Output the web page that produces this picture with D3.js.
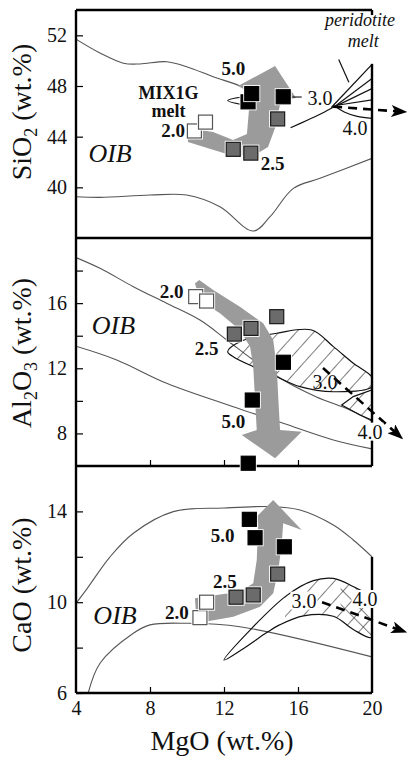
<!DOCTYPE html>
<html><head><meta charset="utf-8">
<script src="https://cdn.jsdelivr.net/npm/d3@7"></script>
<style>
html,body{margin:0;padding:0;background:#fff;}
svg{display:block;}
text{font-family:'Liberation Serif','Times New Roman',serif;}
</style></head><body>
<svg id="chart" width="408" height="759"></svg>
<script>
// ---------- axes ----------
const mgoDomain = [4, 20];
const mgoTicks = [4, 8, 12, 16, 20];
const sio2Ticks = [40, 44, 48, 52];
const al2o3Ticks = [8, 10, 12, 14, 16, 18];
const al2o3Labels = [8, 12, 16];
const caoTicks = [6, 8, 10, 12, 14];
const caoLabels = [6, 10, 14];

// ---------- experimental melts (pressure in GPa, MgO, oxide wt.%) ----------
const sio2Melts = [
  ["2.0", 10.4, 44.45], ["2.0", 11.0, 45.15],
  ["2.5", 12.5, 43.0], ["2.5", 13.45, 42.7], ["2.5", 14.9, 45.4],
  ["5.0", 13.3, 46.75], ["5.0", 13.5, 47.4], ["5.0", 15.2, 47.15]
];
const al2o3Melts = [
  ["2.0", 10.47, 16.40], ["2.0", 11.06, 16.13],
  ["2.5", 12.56, 14.10], ["2.5", 13.46, 14.45], ["2.5", 14.85, 15.17],
  ["5.0", 15.21, 12.37], ["5.0", 13.53, 10.05], ["5.0", 13.31, 6.17]
];
const caoMelts = [
  ["2.0", 10.70, 9.32], ["2.0", 11.06, 10.0],
  ["2.5", 12.65, 10.22], ["2.5", 13.58, 10.32], ["2.5", 14.9, 11.24],
  ["5.0", 13.37, 13.65], ["5.0", 13.68, 12.84], ["5.0", 15.26, 12.44]
];

// ---------- OIB envelopes ----------
const sio2OibUpper = [[4.0,51.7],[5.3,50.6],[6.56,49.8],[7.46,49.74],[8.9,49.92],[9.98,49.52],[11.42,48.73],[12.86,48.0],[13.3,47.6]];
const sio2OibLower = [[4.0,39.26],[5.3,39.21],[8.0,39.39],[9.98,39.39],[11.78,38.47],[13.58,36.55],[14.49,37.68],[15.75,39.92],[17.19,40.71],[20.0,42.29]];
const al2o3OibUpper = [[4.0,18.8],[5.3,18.14],[7.1,17.01],[8.9,15.99],[10.7,14.96],[12.15,13.74],[13.58,12.51],[15.2,11.28],[17.0,10.24],[18.81,9.44],[20.0,8.75]];
const al2o3OibLower = [[4.0,13.35],[6.2,12.51],[8.9,11.08],[12.5,9.64],[15.2,8.62],[17.91,7.6],[20.0,7.05]];
const caoOibUpper = [[4.0,9.95],[4.6,10.6],[5.84,12.0],[7.1,13.04],[9.26,13.99],[12.0,14.15],[14.66,14.21],[16.11,14.06],[17.91,13.40],[18.99,12.74],[20.0,12.0]];
const caoOibLower = [[4.66,6.0],[5.3,7.31],[7.1,8.63],[8.0,9.0],[10.0,9.07],[12.86,8.92],[20.0,7.59]];

// ---------- peridotite melt fields ----------
const sio2PeriLower = [[15.6,44.7],[16.5,45.3],[17.3,45.85],[18.0,46.4]];
const sio2PeriFan = [
  [[17.8,46.3],[20,49.7]], [[18.0,46.4],[20,48.6]],
  [[18.1,46.45],[20,47.8]], [[18.2,46.5],[20,46.9]]
];
const sio2PeriLoop = [[18.0,46.4],[18.5,45.95],[19.2,45.6],[20,45.45]];
const sio2PeriLeader = [[18.2,50.1],[18.75,48.3]];
const sio2SmallLoop = [[13.3,47.2],[12.2,46.85],[13.3,46.45]];
const sio2Leader30 = [[15.7,47.13],[16.2,47.13]];
const sio2Trend = [[17.9,46.37],[21.8,45.95]];

const al2o3PeriBig = [[12.2,13.02],[12.86,13.63],[14.85,14.15],[16.74,14.35],[17.91,13.33],[18.99,12.31],[20,11.45],[20,10.87],[17.91,10.56],[16.11,10.87],[14.85,11.48],[13.58,12.1],[12.5,12.71]];
const al2o3PeriSmall = [[18.36,9.75],[18.99,10.26],[20,10.67],[20,8.82],[19.35,9.13]];
const al2o3Trend = [[17.35,12.02],[21.6,7.72]];

const caoPeriLeaf = [[12.0,7.45],[13.5,8.85],[15.4,10.3],[16.83,10.95],[17.91,11.05],[18.81,10.76],[20,10.1],[20,8.45],[18.99,8.8],[17.91,9.38],[16.3,9.4],[15.0,9.0],[14.31,8.66],[13.04,7.95]];
const caoTrend = [[17.3,10.0],[21.8,8.69]];

// ---------- trend arrows ----------
const sio2Arrow = [[10.05,44.68],[11.41,44.37],[12.49,43.74],[13.24,44.21],[13.35,46.1],[13.19,47.68],[12.76,48.0],[14.76,49.58],[15.89,47.05],[15.08,46.9],[14.76,44.68],[14.38,43.18],[13.57,42.47],[12.32,42.55],[10.05,43.58]];
const al2o3Arrow = [[10.66,17.42],[11.42,16.81],[12.86,15.78],[14.12,14.76],[14.66,13.74],[14.85,12.10],[14.94,10.05],[15.03,8.21],[16.2,8.11],[14.76,6.47],[12.96,7.9],[13.77,8.21],[13.68,10.05],[13.58,12.10],[13.41,13.33],[12.86,14.35],[11.78,15.38],[10.70,16.18],[10.43,17.21]];
const caoArrow = [[10.43,10.17],[11.6,10.32],[12.86,10.46],[13.58,10.83],[13.77,11.86],[13.85,13.48],[13.23,13.33],[14.66,14.5],[16.2,13.18],[15.2,13.48],[15.12,12.59],[14.94,11.42],[14.66,10.39],[13.95,9.80],[12.5,9.36],[10.52,9.07]];

// ---------- drawing ----------
const svg = d3.select("#chart");
const x = d3.scaleLinear().domain(mgoDomain).range([76, 372]);
const fill = {"2.0": "#ffffff", "2.5": "#6b6b6b", "5.0": "#000000"};
const edge = {"2.0": "#555", "2.5": "#1a1a1a", "5.0": "#000"};

const defs = svg.append("defs");
defs.append("pattern").attr("id", "hatch").attr("patternUnits", "userSpaceOnUse")
  .attr("width", 13).attr("height", 13).attr("patternTransform", "rotate(42)")
  .append("line").attr("x1", 0).attr("y1", 0).attr("x2", 0).attr("y2", 13)
  .attr("stroke", "#111").attr("stroke-width", 1.1);
defs.append("pattern").attr("id", "hatchB").attr("patternUnits", "userSpaceOnUse")
  .attr("width", 11).attr("height", 11).attr("patternTransform", "rotate(-45)")
  .append("line").attr("x1", 0).attr("y1", 0).attr("x2", 0).attr("y2", 11)
  .attr("stroke", "#111").attr("stroke-width", 1.1);
defs.append("marker").attr("id", "head").attr("markerUnits", "userSpaceOnUse")
  .attr("viewBox", "0 0 16 12").attr("markerWidth", 16).attr("markerHeight", 12)
  .attr("refX", 14).attr("refY", 6).attr("orient", "auto")
  .append("path").attr("d", "M0,0 L16,6 L0,12 L4,6 Z").attr("fill", "#000");

const panels = [
  {id: "p1", y: d3.scaleLinear().domain([36, 54]).range([238, 10]), ticks: sio2Ticks, labels: sio2Ticks},
  {id: "p2", y: d3.scaleLinear().domain([6, 20]).range([466, 238]), ticks: al2o3Ticks, labels: al2o3Labels},
  {id: "p3", y: d3.scaleLinear().domain([6, 16]).range([693, 466]), ticks: caoTicks, labels: caoLabels}
];
panels.forEach(p => {
  const [y0, y1] = p.y.range();
  defs.append("clipPath").attr("id", "clip-" + p.id).append("rect")
    .attr("x", x.range()[0]).attr("y", y1).attr("width", x.range()[1] - x.range()[0]).attr("height", y0 - y1);
});

function lineFor(p, curve) {
  return d3.line().x(d => x(d[0])).y(d => p.y(d[1])).curve(curve || d3.curveLinear);
}
function layer(p) { return svg.append("g").attr("clip-path", `url(#clip-${p.id})`); }

function drawArrow(p, pts) {
  layer(p).append("path").attr("d", lineFor(p)(pts) + "Z").attr("fill", "#9b9b9b");
}
function drawOib(p, pts) {
  layer(p).append("path").attr("d", lineFor(p, d3.curveCatmullRom)(pts))
    .attr("fill", "none").attr("stroke", "#555").attr("stroke-width", 1.1);
}
function drawLine(g, p, pts, w, curve) {
  return g.append("path").attr("d", lineFor(p, curve)(pts))
    .attr("fill", "none").attr("stroke", "#111").attr("stroke-width", w || 1.1);
}
function drawTrend(p, pts) {
  svg.append("path").attr("d", lineFor(p)(pts)).attr("fill", "none")
    .attr("stroke", "#000").attr("stroke-width", 2.6).attr("stroke-dasharray", "9,6")
    .attr("marker-end", "url(#head)");
}
function drawMelts(p, rows) {
  const s = 14;
  const g = svg.append("g");
  rows.forEach(r => {
    const cx = x(r[1]), cy = p.y(r[2]);
    g.append("rect").attr("x", cx - s / 2 - 1.5).attr("y", cy - s / 2 - 1.5)
      .attr("width", s + 3).attr("height", s + 3).attr("fill", "#fff");
    g.append("rect").attr("x", cx - s / 2).attr("y", cy - s / 2)
      .attr("width", s).attr("height", s).attr("fill", fill[r[0]])
      .attr("stroke", edge[r[0]]).attr("stroke-width", 1.2);
  });
}
// text centred on a data position
function label(p, mgo, v, txt, opts) {
  opts = opts || {};
  const t = svg.append("text").attr("x", x(mgo)).attr("y", p.y(v)).attr("dy", "0.35em")
    .attr("text-anchor", opts.anchor || "middle")
    .attr("font-size", opts.size || 19)
    .attr("font-weight", opts.bold ? "bold" : "normal")
    .attr("font-style", opts.italic ? "italic" : "normal")
    .attr("fill", "#111").text(txt);
  if (opts.bg) {
    const b = t.node().getBBox();
    svg.insert("rect", () => t.node()).attr("x", b.x - 1).attr("y", b.y + 2)
      .attr("width", b.width + 2).attr("height", b.height - 4).attr("fill", "#fff");
  }
  return t;
}

const [P1, P2, P3] = panels;

// ---- panel 1: SiO2 ----
drawOib(P1, sio2OibUpper);
drawOib(P1, sio2OibLower);
drawArrow(P1, sio2Arrow);
{
  const g = layer(P1);
  drawLine(g, P1, sio2PeriLower, 1.2, d3.curveCatmullRom);
  sio2PeriFan.forEach(f => drawLine(g, P1, f, 1.2));
  drawLine(g, P1, sio2PeriLoop, 1.2, d3.curveCatmullRom);
  drawLine(g, P1, sio2PeriLeader, 1.2);
  drawLine(g, P1, sio2SmallLoop, 1.1, d3.curveCatmullRom);
  drawLine(g, P1, sio2Leader30, 1.1);
}
drawTrend(P1, sio2Trend);

// ---- panel 2: Al2O3 ----
drawOib(P2, al2o3OibUpper);
drawOib(P2, al2o3OibLower);
{
  const g = layer(P2);
  g.append("path").attr("d", lineFor(P2, d3.curveCatmullRomClosed)(al2o3PeriBig))
    .attr("fill", "url(#hatch)").attr("stroke", "#111").attr("stroke-width", 1.2);
  g.append("path").attr("d", lineFor(P2)(al2o3PeriSmall) + "Z")
    .attr("fill", "url(#hatch)").attr("stroke", "#111").attr("stroke-width", 1.2);
}
drawArrow(P2, al2o3Arrow);
drawTrend(P2, al2o3Trend);

// ---- panel 3: CaO ----
drawOib(P3, caoOibUpper);
drawOib(P3, caoOibLower);
drawArrow(P3, caoArrow);
{
  const g = layer(P3);
  const leafPath = lineFor(P3, d3.curveCatmullRomClosed)(caoPeriLeaf);
  defs.append("clipPath").attr("id", "leaf").append("path").attr("d", leafPath);
  const hg = g.append("g").attr("clip-path", "url(#leaf)");
  hg.append("rect").attr("x", x(15.3)).attr("y", P3.y(12)).attr("width", x(20) - x(15.3))
    .attr("height", P3.y(7) - P3.y(12)).attr("fill", "url(#hatch)");
  hg.append("rect").attr("x", x(18.3)).attr("y", P3.y(12)).attr("width", x(20) - x(18.3))
    .attr("height", P3.y(7) - P3.y(12)).attr("fill", "url(#hatchB)");
  g.append("path").attr("d", leafPath).attr("fill", "none").attr("stroke", "#111").attr("stroke-width", 1.2);
}
drawTrend(P3, caoTrend);

// ---- frames and axes ----
const fr = svg.append("g").attr("stroke", "#000").attr("stroke-width", 2.4).attr("fill", "none");
const xl = x.range()[0], xr = x.range()[1];
fr.append("line").attr("x1", xl).attr("x2", xr).attr("y1", P1.y(54)).attr("y2", P1.y(54));
[P1, P2, P3].forEach(p => {
  const [yb, yt] = p.y.range();
  fr.append("line").attr("x1", xl).attr("x2", xl).attr("y1", yt).attr("y2", yb);
  fr.append("line").attr("x1", xl).attr("x2", xr).attr("y1", yb).attr("y2", yb);
});
// right-hand edge, left open beside the peridotite label and the top of the CaO panel
const rightEdge = [[P1, 36, 49.75], [P1, 53.6, 54], [P2, 6, 20], [P3, 6, 12.0]];
rightEdge.forEach(([p, a, b]) => fr.append("line").attr("x1", xr).attr("x2", xr).attr("y1", p.y(a)).attr("y2", p.y(b)));

panels.forEach(p => {
  const ax = d3.axisLeft(p.y).tickValues(p.ticks).tickSize(-7).tickPadding(9)
    .tickFormat(d => p.labels.includes(d) ? d : "");
  const g = svg.append("g").attr("transform", `translate(${xl},0)`).call(ax);
  g.select(".domain").remove();
  g.selectAll(".tick line").attr("stroke", "#000").attr("stroke-width", 1.2);
  g.selectAll("text").attr("font-size", 20).attr("fill", "#111")
    .attr("font-family", "'Liberation Serif','Times New Roman',serif");
});
// MgO ticks along the base of the Al2O3 and CaO panels
[P2, P3].forEach((p, i) => {
  const ax = d3.axisBottom(x).tickValues(mgoTicks).tickSize(-6).tickPadding(8)
    .tickFormat(i === 1 ? d3.format("d") : () => "");
  const g = svg.append("g").attr("transform", `translate(0,${p.y.range()[0]})`).call(ax);
  g.select(".domain").remove();
  g.selectAll(".tick line").attr("stroke", "#000").attr("stroke-width", 1.2)
    .filter(d => d === 4 || d === 20).remove();
  g.selectAll("text").attr("font-size", 20).attr("fill", "#111")
    .attr("font-family", "'Liberation Serif','Times New Roman',serif");
});

// ---- melts on top ----
drawMelts(P1, sio2Melts);
drawMelts(P2, al2o3Melts);
drawMelts(P3, caoMelts);

// ---- annotations ----
label(P1, 9.0, 47.5, "MIX1G", {bold: true, size: 18});
label(P1, 9.0, 46.05, "melt", {bold: true, size: 18});
label(P1, 9.25, 44.5, "2.0", {bold: true});
label(P1, 12.5, 49.4, "5.0", {bold: true});
label(P1, 14.63, 41.9, "2.5", {bold: true});
label(P1, 5.84, 42.7, "OIB", {italic: true, size: 26});
label(P1, 17.19, 47.03, "3.0", {size: 20});
label(P1, 19.08, 44.66, "4.0", {size: 20});
label(P1, 19.35, 53.2, "peridotite", {italic: true, size: 18});
label(P1, 19.53, 51.6, "melt", {italic: true, size: 18});

label(P2, 9.17, 16.7, "2.0", {bold: true});
label(P2, 11.06, 13.23, "2.5", {bold: true});
label(P2, 12.5, 8.72, "5.0", {bold: true});
label(P2, 6.02, 14.66, "OIB", {italic: true, size: 26});
label(P2, 17.46, 11.18, "3.0", {size: 20});
label(P2, 19.89, 8.11, "4.0", {size: 20, bg: true});

label(P3, 9.45, 9.54, "2.0", {bold: true});
label(P3, 12.05, 10.9, "2.5", {bold: true});
label(P3, 11.93, 12.96, "5.0", {bold: true});
label(P3, 6.11, 9.44, "OIB", {italic: true, size: 26});
label(P3, 16.32, 10.07, "3.0", {size: 20, bg: true});
label(P3, 19.62, 10.14, "4.0", {size: 20, bg: true});

// ---- axis titles ----
function yTitle(cy, parts) {
  const t = svg.append("text").attr("transform", `translate(31,${cy}) rotate(-90)`)
    .attr("text-anchor", "middle").attr("font-size", 28).attr("fill", "#111");
  parts.forEach(([s, sub], i) => {
    const ts = t.append("tspan").text(s);
    if (sub) ts.attr("font-size", 18).attr("dy", 6);
    else if (i > 0 && parts[i - 1][1]) ts.attr("dy", -6);
  });
}
yTitle(112, [["SiO"], ["2", true], [" (wt.%)"]]);
yTitle(353, [["Al"], ["2", true], ["O"], ["3", true], [" (wt.%)"]]);
yTitle(585, [["CaO (wt.%)"]]);
svg.append("text").attr("x", 222).attr("y", 750).attr("text-anchor", "middle")
  .attr("font-size", 28).attr("fill", "#111").text("MgO (wt.%)");
</script></body></html>
